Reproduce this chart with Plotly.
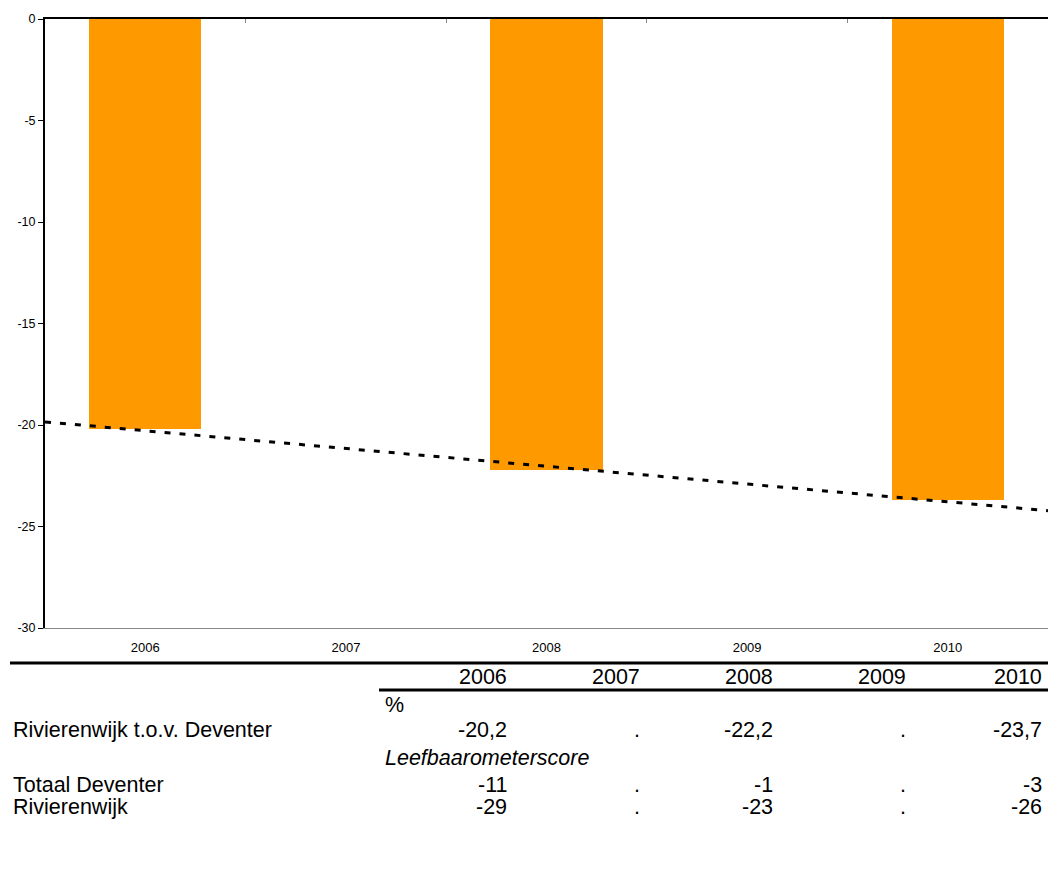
import numpy as np
import plotly.graph_objects as go

years = ["2006", "2007", "2008", "2009", "2010"]
bar_years = ["2006", "2008", "2010"]
bar_values = [-20.2, -22.2, -23.7]
y_ticks = [0, -5, -10, -15, -20, -25, -30]

table_header = years
row_labels = ["Rivierenwijk t.o.v. Deventer", "Totaal Deventer", "Rivierenwijk"]
row_values = [
    ["-20,2", ".", "-22,2", ".", "-23,7"],
    ["-11", ".", "-1", ".", "-3"],
    ["-29", ".", "-23", ".", "-26"],
]
unit_label = "%"
section_label = "Leefbaarometerscore"

W, H = 1048, 874
L, T, R, B = 45, 19, 1048, 628


def px(x):
    return (x - L) / (R - L)


def py(y):
    return (B - y) / (B - T)


xpos = [years.index(y) for y in bar_years]
slope, intercept = np.polyfit(xpos, bar_values, 1)
trend_x = [-0.5, len(years) - 0.5]
trend_y = [intercept + slope * x for x in trend_x]

fig = go.Figure()
fig.add_trace(go.Bar(x=xpos, y=bar_values, width=0.56, marker=dict(color="#FF9900", line=dict(width=0)),
                     showlegend=False, hoverinfo="skip"))
fig.add_trace(go.Scatter(x=trend_x, y=trend_y, mode="lines", xaxis="x2",
                         line=dict(color="black", width=3, dash="6px,9px"),
                         showlegend=False, hoverinfo="skip"))

fig.update_layout(
    width=W, height=H,
    margin=dict(l=L, r=W - R, t=T, b=H - B),
    plot_bgcolor="white", paper_bgcolor="white",
    font=dict(family="Liberation Sans, Arial, sans-serif", color="black"),
    bargap=0,
    xaxis=dict(range=[-0.5, len(years) - 0.5], tickvals=list(range(len(years))), ticktext=years,
               showgrid=False, zeroline=False, showline=True, linecolor="#888888", linewidth=1,
               ticks="", ticklabelstandoff=7, tickfont=dict(size=13, color="black")),
    xaxis2=dict(range=[-0.5, len(years) - 0.5], overlaying="x", side="top",
                tickvals=[i + 0.5 for i in range(len(years) - 1)], showticklabels=False,
                ticks="inside", ticklen=4, tickcolor="#888888", tickwidth=1,
                showgrid=False, zeroline=False, showline=True, linecolor="black", linewidth=2),
    yaxis=dict(range=[-30, 0], tickvals=y_ticks, ticktext=[str(v) for v in y_ticks],
               showgrid=False, zeroline=False, showline=True, linecolor="black", linewidth=2,
               ticks="outside", ticklen=5, tickcolor="black", tickfont=dict(size=12.5, color="black")),
)

# table lines
fig.add_shape(type="line", xref="paper", yref="paper", x0=px(10), x1=px(1048), y0=py(663), y1=py(663),
              line=dict(color="black", width=3))
fig.add_shape(type="line", xref="paper", yref="paper", x0=px(379), x1=px(1048), y0=py(690), y1=py(690),
              line=dict(color="black", width=3))

col_right = [509, 642, 775, 908, 1044]
fs = 21.5


def ann(text, x, y, anchor, italic=False):
    fig.add_annotation(text=f"<i>{text}</i>" if italic else text, xref="paper", yref="paper",
                       x=px(x), y=py(y), xanchor=anchor, yanchor="middle", showarrow=False,
                       font=dict(size=fs, color="black"))


for h, xr in zip(table_header, col_right):
    ann(h, xr, 677, "right")
ann(unit_label, 383, 705, "left")
ann(section_label, 383, 758, "left", italic=True)

row_y = [730, 785, 807]
for label, vals, yy in zip(row_labels, row_values, row_y):
    ann(label, 11, yy, "left")
    for v, xr in zip(vals, col_right):
        ann(v, xr, yy, "right")

fig.write_html("out.html", config={"displayModeBar": False},
               post_script="document.body.style.margin='0';document.body.style.overflow='hidden';")
